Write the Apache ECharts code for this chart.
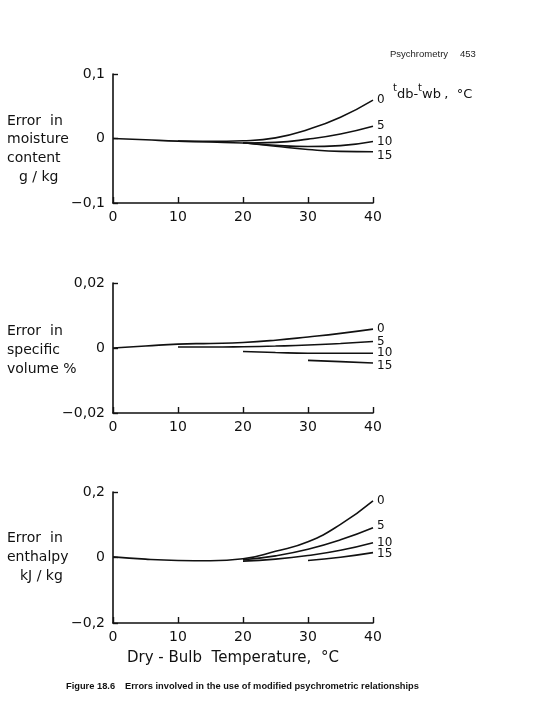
<!DOCTYPE html>
<html><head><meta charset="utf-8">
<script src="https://cdn.jsdelivr.net/npm/echarts@6/dist/echarts.min.js"></script>
<style>html,body{margin:0;padding:0;background:#fff}#c{width:540px;height:711px}</style>
</head><body><div id="c"></div>
<script>
// ---- data ----
const seriesNames = ['0', '5', '10', '15'];
const xTicks = [0, 10, 20, 30, 40];
// moisture content error (g/kg)
const mcX0 = [0, 5, 10, 15, 20, 25, 30, 35, 40];
const mc0 = [0, -0.002, -0.004, -0.0045, -0.0035, 0.001, 0.014, 0.033, 0.0595];
const mcX5 = [10, 15, 20, 25, 30, 35, 40];
const mc5 = [-0.004, -0.0055, -0.007, -0.006, -0.001, 0.007, 0.019];
const mcX10 = [20, 25, 30, 35, 40];
const mc10 = [-0.0065, -0.0105, -0.0125, -0.011, -0.0047];
const mcX15 = [20, 25, 30, 35, 40];
const mc15 = [-0.0065, -0.012, -0.017, -0.020, -0.0205];
// specific volume error (%)
const svX0 = [0, 5, 10, 15, 20, 25, 30, 35, 40];
const sv0 = [0, 0.0006, 0.0012, 0.0014, 0.0017, 0.0024, 0.0034, 0.0045, 0.0058];
const svX5 = [10, 15, 20, 25, 30, 35, 40];
const sv5 = [0.0003, 0.0003, 0.0004, 0.0006, 0.0009, 0.0014, 0.002];
const svX10 = [20, 25, 30, 35, 40];
const sv10 = [-0.0011, -0.0014, -0.0016, -0.0016, -0.0016];
const svX15 = [30, 35, 40];
const sv15 = [-0.0038, -0.0042, -0.0046];
// enthalpy error (kJ/kg)
const enX0 = [0, 5, 10, 15, 20, 25, 30, 35, 40];
const en0 = [0.002, -0.005, -0.009, -0.010, -0.004, 0.019, 0.048, 0.101, 0.173];
const enX5 = [20, 25, 30, 35, 40];
const en5 = [-0.007, 0.005, 0.025, 0.054, 0.091];
const enX10 = [20, 25, 30, 35, 40];
const en10 = [-0.011, -0.005, 0.006, 0.022, 0.045];
const enX15 = [30, 35, 40];
const en15 = [-0.009, 0.001, 0.015];
// axis ranges
const yMax = [0.1, 0.02, 0.2];

const pairs = (xs, ys) => xs.map((x, i) => [x, ys[i]]);
const panels = [
  [pairs(mcX0, mc0), pairs(mcX5, mc5), pairs(mcX10, mc10), pairs(mcX15, mc15)],
  [pairs(svX0, sv0), pairs(svX5, sv5), pairs(svX10, sv10), pairs(svX15, sv15)],
  [pairs(enX0, en0), pairs(enX5, en5), pairs(enX10, en10), pairs(enX15, en15)]
];

const FONT = 'DejaVu Sans';
const gridTops = [74, 283, 492];
const gridH = [129, 130, 131];
const labelOffsets = [
  [[0, 0], [0, 0], [0, 0], [0, 4]],
  [[0, 0], [0, 0], [0, 0], [0, 3]],
  [[0, 0], [0, -2], [0, 0], [0, 1]]
];

const fmtY = v => {
  if (Math.abs(v) < 1e-12) return '0';
  const s = String(+Math.abs(v).toFixed(3)).replace('.', ',');
  return (v < 0 ? '−' : '') + s;
};

const grid = gridTops.map((t, i) => ({left: 113, width: 260, top: t, height: gridH[i]}));
const xAxis = gridTops.map((t, i) => ({
  type: 'value', gridIndex: i, min: 0, max: 40, interval: 10,
  axisLine: {onZero: false, lineStyle: {color: '#111', width: 1.6}},
  axisTick: {show: true, inside: true, length: 6, lineStyle: {color: '#111', width: 1.4}},
  axisLabel: {color: '#111', fontFamily: FONT, fontSize: 14, margin: 7,
    formatter: v => xTicks.includes(v) ? String(v) : ''},
  splitLine: {show: false}
}));
const yAxis = gridTops.map((t, i) => ({
  type: 'value', gridIndex: i, min: -yMax[i], max: yMax[i], interval: yMax[i],
  axisLine: {show: true, lineStyle: {color: '#111', width: 1.6}},
  axisTick: {show: true, inside: true, length: 5, lineStyle: {color: '#111', width: 1.4}},
  axisLabel: {color: '#111', fontFamily: FONT, fontSize: 14, margin: 8, formatter: fmtY},
  splitLine: {show: false}
}));

const series = [];
panels.forEach((p, gi) => {
  p.forEach((d, si) => {
    series.push({
      type: 'line', name: seriesNames[si], xAxisIndex: gi, yAxisIndex: gi,
      data: d, smooth: 0.5, symbol: 'none',
      lineStyle: {color: '#111', width: 1.6},
      endLabel: {show: true, formatter: '{a}', color: '#111', fontFamily: FONT,
        fontSize: 12, distance: 4, offset: labelOffsets[gi][si]}
    });
  });
});

const T = (s, left, top) => ({type: 'text', left, top, style: {text: s, font: '14px "DejaVu Sans"', fill: '#111'}});

const graphic = [
  T('Error  in', 7, 114), T('moisture', 7, 132), T('content', 7, 151), T('g / kg', 19, 170),
  T('Error  in', 7, 324), T('specific', 7, 343), T('volume %', 7, 362),
  T('Error  in', 7, 531), T('enthalpy', 7, 550), T('kJ / kg', 20, 569),
  {type: 'text', left: 390, top: 49, style: {text: 'Psychrometry', font: '9.5px "Liberation Sans"', fill: '#222'}},
  {type: 'text', left: 460, top: 49, style: {text: '453', font: '9.5px "Liberation Sans"', fill: '#222'}},
  {type: 'text', left: 393, top: 83, style: {
    text: '{s|t}{b|db}{b|-}{s|t}{b|wb} {b|,  °C}',
    rich: {
      s: {fontFamily: FONT, fontSize: 10, verticalAlign: 'top', lineHeight: 18, fill: '#111', color: '#111'},
      b: {fontFamily: FONT, fontSize: 13, verticalAlign: 'bottom', lineHeight: 18, fill: '#111', color: '#111'}
    }, fill: '#111'}},
  {type: 'text', left: 127, top: 651, style: {text: 'Dry - Bulb  Temperature,  °C', font: '15px "DejaVu Sans"', fill: '#111'}},
  {type: 'text', left: 66, top: 682, style: {text: 'Figure 18.6', font: 'bold 9.3px "Liberation Sans"', fill: '#111'}},
  {type: 'text', left: 125, top: 682, style: {text: 'Errors involved in the use of modified psychrometric relationships', font: 'bold 9.3px "Liberation Sans"', fill: '#111'}}
];

const chart = echarts.init(document.getElementById('c'), null, {renderer: 'canvas'});
chart.setOption({
  backgroundColor: '#fff', animation: false,
  grid, xAxis, yAxis, series, graphic
});
</script></body></html>
